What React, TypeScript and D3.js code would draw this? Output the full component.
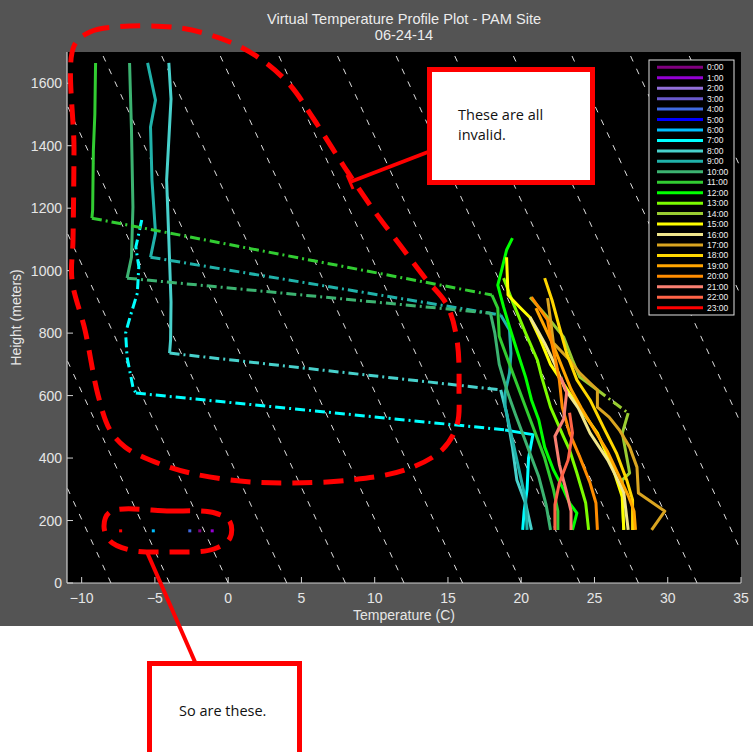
import React from 'react';
import * as d3 from 'd3';

// ---------- data ----------
const hourLabels = ['0:00','1:00','2:00','3:00','4:00','5:00','6:00','7:00','8:00','9:00','10:00','11:00','12:00','13:00','14:00','15:00','16:00','17:00','18:00','19:00','20:00','21:00','22:00','23:00'];
const hourColors = ['#800080','#9400D3','#9370DB','#6A5ACD','#4169E1','#0000FF','#00BFFF','#00FFFF','#48D1CC','#20B2AA','#3CB371','#32CD32','#00FF00','#7CFC00','#9ACD32','#FFFF00','#F0E68C','#DAA520','#FFD700','#FFA500','#FF8C00','#FA8072','#FF6347','#FF0000'];

const xTicks = [-10, -5, 0, 5, 10, 15, 20, 25, 30, 35];
const yTicks = [0, 200, 400, 600, 800, 1000, 1200, 1400, 1600];
const adiabatBaseTemps = [-8, -4, 0, 4, 8, 12, 16, 20, 24, 28, 32, 36, 40, 44, 48];
const lapseRate = 0.0098; // C per meter

// profiles: [temperature C, height m]
type P = [number, number];
const h07Upper: P[] = [[-5.9,1162],[-6.3,1076],[-6.1,1012],[-6.2,928],[-6.7,851],[-7.0,800],[-6.9,723],[-6.5,627],[-6.3,608]];
const h07Lower: P[] = [[18.9,490],[20.8,475],[20.5,400],[20.4,300],[20.2,230],[20.1,170]];
const h08Upper: P[] = [[-4.05,1665],[-3.9,1550],[-4.2,1290],[-4.05,1100],[-3.9,900],[-3.93,778],[-4.0,736]];
const h08Lower: P[] = [[18.6,618],[19.0,545],[19.4,435],[19.7,330],[20.3,255],[20.7,170]];
const h09Upper: P[] = [[-5.5,1665],[-4.96,1546],[-5.3,1460],[-5.2,1290],[-4.96,1120],[-5.3,1043]];
const h09Lower: P[] = [[18.6,858],[19.2,810],[19.3,735],[19.2,672],[18.9,608],[18.9,565],[19.4,458],[19.9,352],[20.3,266],[20.4,170]];
const h10Upper: P[] = [[-6.73,1665],[-6.6,1450],[-6.5,1204],[-6.6,1043],[-6.9,976]];
const h10Lower: P[] = [[17.9,864],[18.2,800],[18.5,700],[19.0,620],[19.6,540],[20.4,440],[21.2,340],[21.7,250],[22.0,170]];
const h11Upper: P[] = [[-9.05,1665],[-9.1,1500],[-9.2,1386],[-9.25,1194],[-9.3,1168]];
const h11Lower: P[] = [[18.0,922],[18.4,880],[18.5,790],[19.2,700],[20.0,600],[20.8,500],[21.6,400],[22.2,300],[22.5,230],[22.5,170]];
const h12: P[] = [[19.4,1104],[19.0,1066],[18.7,1008],[18.4,954],[18.8,883],[19.2,820],[19.7,746],[20.3,659],[20.7,586],[21.2,522],[21.6,435],[22.2,362],[22.9,298],[23.3,256],[23.8,224],[23.5,170]];
const h13: P[] = [[18.8,976],[19.45,896],[20.3,800],[21.1,714],[21.4,659],[22.0,563],[22.9,467],[23.3,426],[23.8,352],[24.4,256],[24.6,170]];
const h14Upper: P[] = [[20.6,915],[21.8,851],[22.9,787],[23.5,714],[24.0,659],[25.2,618]];
const h14Lower: P[] = [[27.3,544],[26.9,480],[27.4,352],[26.9,330],[26.9,266],[27.0,170]];
const h15: P[] = [[19.0,1043],[19.1,922],[19.9,883],[20.6,850],[21.3,780],[22.0,700],[23.3,608],[24.3,540],[25.2,480],[26.3,362],[26.9,275],[27.0,170]];
const h16: P[] = [[20.6,851],[21.1,810],[21.6,768],[22.3,700],[23.0,620],[23.9,560],[24.7,480],[25.9,394],[26.7,320],[27.0,290],[27.3,170]];
const h17: P[] = [[21.8,912],[22.0,842],[22.2,768],[23.3,714],[24.0,672],[24.7,640],[25.2,618],[25.2,563],[26.0,531],[26.7,490],[27.4,435],[27.9,371],[28.0,288],[29.8,230],[28.9,170]];
const h18: P[] = [[21.6,976],[22.1,906],[22.6,820],[23.1,736],[23.8,650],[24.7,586],[25.6,500],[26.5,416],[27.2,330],[27.6,266],[27.6,170]];
const h19: P[] = [[21.0,880],[21.5,830],[22.2,760],[22.8,690],[23.4,620],[24.1,560],[25.0,490],[25.9,420],[26.6,350],[27.3,280],[27.7,230],[27.8,170]];
const h20: P[] = [[20.7,915],[21.8,842],[22.0,787],[22.4,700],[22.6,650],[22.8,563],[23.3,480],[24.0,403],[24.7,320],[25.1,256],[25.2,170]];
const h21: P[] = [[22.7,659],[23.1,610],[22.9,525],[22.3,470],[22.6,380],[23.1,290],[23.4,230],[23.4,170]];
const h22: P[] = [[23.3,545],[23.5,480],[23.2,394],[22.6,320],[22.3,250],[22.3,170]];

const dotHours = [23, 6, 4, 0, 1];
const dotTemps = [-7.34, -5.11, -2.62, -1.94, -1.09];
const dotHeight = 167;

type Profile = { hour: number; upper?: P[]; lower: P[]; upperDashed?: boolean };
const profiles: Profile[] = [
  { hour: 7, upper: h07Upper, lower: h07Lower, upperDashed: true },
  { hour: 8, upper: h08Upper, lower: h08Lower },
  { hour: 9, upper: h09Upper, lower: h09Lower },
  { hour: 10, upper: h10Upper, lower: h10Lower },
  { hour: 11, upper: h11Upper, lower: h11Lower },
  { hour: 12, lower: h12 },
  { hour: 13, lower: h13 },
  { hour: 14, upper: h14Upper, lower: h14Lower },
  { hour: 15, lower: h15 },
  { hour: 16, lower: h16 },
  { hour: 17, lower: h17 },
  { hour: 18, lower: h18 },
  { hour: 19, lower: h19 },
  { hour: 20, lower: h20 },
  { hour: 21, lower: h21 },
  { hour: 22, lower: h22 },
];

// ---------- layout (pixels) ----------
const W = 755, H = 752;
const figW = 753, figH = 626;
const ax = { left: 67, right: 741, top: 52, bottom: 583 };
const legendBox = { x: 649, y: 60, w: 85, h: 255 };

const bigLoop: [number, number][] = [[74,46],[90,32],[115,27],[180,28],[230,42],[262,60],[290,85],[313,118],[345,168],[375,212],[400,245],[425,278],[447,305],[457,340],[459,390],[457,425],[442,450],[405,470],[350,480],[290,483],[240,481],[190,473],[150,460],[125,447],[110,430],[98,395],[85,330],[72,280],[73,240],[74,150]];
const smallLoop: [number, number][] = [[110,512],[170,511],[215,513],[230,522],[230,538],[214,549],[170,552],[130,550],[110,541],[104,526]];

const FIG_BG = '#545454';
const AX_COLOR = '#d0d0d0';
const RED = '#ff0000';

export default function App() {
  const x = d3.scaleLinear().domain([-11, 35]).range([ax.left, ax.right]);
  const y = d3.scaleLinear().domain([0, 1700]).range([ax.bottom, ax.top]);
  const line = d3.line<P>().x(d => x(d[0])).y(d => y(d[1]));
  const loopLine = d3.line<[number, number]>().x(d => d[0]).y(d => d[1]).curve(d3.curveCatmullRomClosed.alpha(0.5));

  const sans = 'Liberation Sans, Arial, Helvetica, sans-serif';
  const dashDot = '10,4,2,4';
  const lw = 3;

  return (
    <svg width={W} height={H} style={{ position: 'absolute', left: 0, top: 0, background: '#ffffff' }}>
      <defs>
        <clipPath id="plotClip">
          <rect x={ax.left} y={ax.top} width={ax.right - ax.left} height={ax.bottom - ax.top} />
        </clipPath>
      </defs>
      <rect x={0} y={0} width={figW} height={figH} fill={FIG_BG} />
      <rect x={ax.left} y={ax.top} width={ax.right - ax.left} height={ax.bottom - ax.top} fill="#000000" />

      {/* dry adiabats */}
      <g clipPath="url(#plotClip)">
        {adiabatBaseTemps.map(t0 => (
          <line key={t0} x1={x(t0)} y1={y(0)} x2={x(t0 - lapseRate * 1700)} y2={y(1700)}
            stroke="#e0e0e0" strokeWidth={1} strokeDasharray="6,8" />
        ))}
      </g>

      {/* profiles */}
      <g clipPath="url(#plotClip)" fill="none" strokeLinejoin="round">
        {profiles.map(p => {
          const c = hourColors[p.hour];
          const parts: React.ReactNode[] = [];
          if (p.upper) {
            parts.push(<path key="u" d={line(p.upper) || ''} stroke={c} strokeWidth={lw}
              strokeDasharray={p.upperDashed ? dashDot : undefined} />);
            const a = p.upper[p.upper.length - 1], b = p.lower[0];
            parts.push(<path key="c" d={line([a, b]) || ''} stroke={c} strokeWidth={lw} strokeDasharray={dashDot} />);
          }
          parts.push(<path key="l" d={line(p.lower) || ''} stroke={c} strokeWidth={lw} />);
          return <g key={p.hour}>{parts}</g>;
        })}
        {dotHours.map((h, i) => (
          <rect key={h} x={x(dotTemps[i]) - 1.5} y={y(dotHeight) - 1.5} width={3} height={3} fill={hourColors[h]} />
        ))}
      </g>

      {/* axes */}
      <line x1={ax.left} y1={ax.top} x2={ax.left} y2={ax.bottom} stroke={AX_COLOR} strokeWidth={1.2} />
      <line x1={ax.left} y1={ax.bottom} x2={ax.right} y2={ax.bottom} stroke={AX_COLOR} strokeWidth={1.2} />
      {xTicks.map(t => (
        <g key={t}>
          <line x1={x(t)} x2={x(t)} y1={ax.bottom} y2={ax.bottom - 6} stroke={AX_COLOR} strokeWidth={1} />
          <text x={x(t)} y={603} textAnchor="middle" fill="#e6e6e6" fontSize={14} fontFamily={sans}>{t < 0 ? '\u2212' + Math.abs(t) : t}</text>
        </g>
      ))}
      {yTicks.map(t => (
        <g key={t}>
          <line x1={ax.left} x2={ax.left + 6} y1={y(t)} y2={y(t)} stroke={AX_COLOR} strokeWidth={1} />
          <text x={62} y={y(t) + 5} textAnchor="end" fill="#e6e6e6" fontSize={14} fontFamily={sans}>{t}</text>
        </g>
      ))}
      <text x={(ax.left + ax.right) / 2} y={620} textAnchor="middle" fill="#e6e6e6" fontSize={14} fontFamily={sans}>Temperature (C)</text>
      <text transform={`translate(21, ${(ax.top + ax.bottom) / 2}) rotate(-90)`} textAnchor="middle" fill="#e6e6e6" fontSize={14} fontFamily={sans}>Height (meters)</text>
      <text x={(ax.left + ax.right) / 2} y={24} textAnchor="middle" fill="#ececec" fontSize={14.6} fontFamily={sans}>Virtual Temperature Profile Plot - PAM Site</text>
      <text x={(ax.left + ax.right) / 2} y={40} textAnchor="middle" fill="#ececec" fontSize={14.6} fontFamily={sans}>06-24-14</text>

      {/* legend */}
      <rect x={legendBox.x} y={legendBox.y} width={legendBox.w} height={legendBox.h} fill="#000000" stroke="#e0e0e0" strokeWidth={1} />
      {hourLabels.map((lab, i) => {
        const ly = legendBox.y + 7.3 + i * 10.45;
        return (
          <g key={lab}>
            <line x1={legendBox.x + 8} x2={legendBox.x + 54} y1={ly} y2={ly} stroke={hourColors[i]} strokeWidth={3} />
            <text x={legendBox.x + 58} y={ly + 3} fill="#f0f0f0" fontSize={8.5} fontFamily={sans}>{lab}</text>
          </g>
        );
      })}

      {/* annotations */}
      <path d={loopLine(bigLoop) || ''} fill="none" stroke={RED} strokeWidth={5} strokeDasharray="20,11" />
      <path d={loopLine(smallLoop) || ''} fill="none" stroke={RED} strokeWidth={5} strokeDasharray="20,11" />

      <line x1={428} y1={152} x2={350} y2={182} stroke={RED} strokeWidth={4} />
      <line x1={347} y1={175} x2={353} y2={189} stroke={RED} strokeWidth={3} />
      <rect x={429.5} y={69.5} width={163} height={113} fill="#ffffff" stroke={RED} strokeWidth={5} />
      <text x={458} y={120} fill="#111111" fontSize={14.5} fontFamily="Open Sans, sans-serif">These are all</text>
      <text x={458} y={140} fill="#111111" fontSize={14.5} fontFamily="Open Sans, sans-serif">invalid.</text>

      <line x1={147} y1={552} x2={195} y2={662} stroke={RED} strokeWidth={4} />
      <rect x={149.5} y={663.5} width={150} height={100} fill="#ffffff" stroke={RED} strokeWidth={5} />
      <text x={179} y={716} fill="#111111" fontSize={14.5} fontFamily="Open Sans, sans-serif">So are these.</text>
    </svg>
  );
}
